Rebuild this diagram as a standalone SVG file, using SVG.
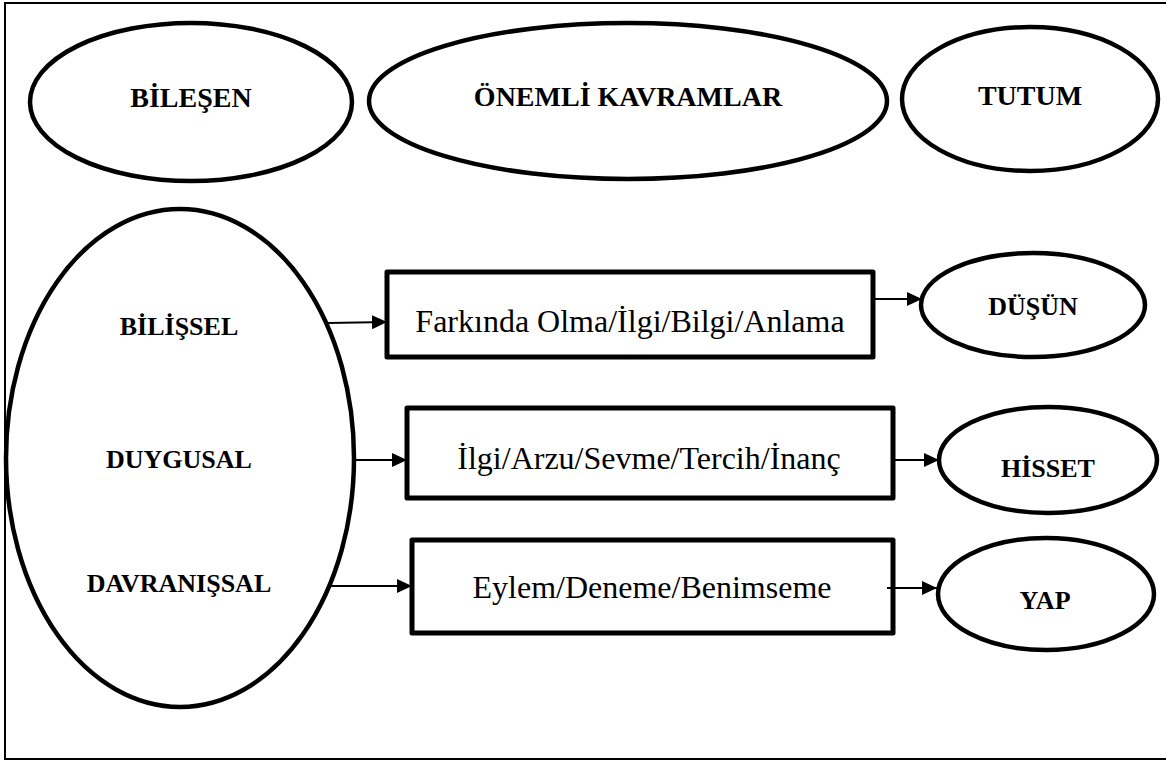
<svg xmlns="http://www.w3.org/2000/svg" width="1166" height="761" viewBox="0 0 1166 761">
  <style>
    .frame { fill: #ffffff; stroke: #000; stroke-width: 2; }
    .ell { fill: #ffffff; stroke: #000; stroke-width: 4.5; }
    .box { fill: #ffffff; stroke: #000; stroke-width: 5; stroke-linejoin: round; }
    .lbl { font-family: "Liberation Serif", "Times New Roman", serif; font-weight: bold; fill: #000; text-anchor: middle; }
    .big { font-size: 28px; }
    .mid { font-size: 26px; }
    .txt { font-family: "Liberation Serif", "Times New Roman", serif; font-size: 32px; fill: #000; text-anchor: middle; }
    .conn { stroke: #000; stroke-width: 2; fill: none; marker-end: url(#arr); }
  </style>
  <defs>
    <marker id="arr" markerUnits="userSpaceOnUse" markerWidth="16" markerHeight="14" refX="15" refY="7" orient="auto">
      <path d="M0,0 L15,7 L0,14 Z" fill="#000"/>
    </marker>
  </defs>
  <rect class="frame" x="5" y="3" width="1163" height="756"/>

  <g id="node-bilesen">
    <ellipse class="ell" cx="191" cy="102" rx="161" ry="79"/>
    <text class="lbl big" x="191" y="107">BİLEŞEN</text>
  </g>
  <g id="node-onemli">
    <ellipse class="ell" cx="628" cy="101" rx="259" ry="78"/>
    <text class="lbl big" x="628" y="106">ÖNEMLİ KAVRAMLAR</text>
  </g>
  <g id="node-tutum">
    <ellipse class="ell" cx="1030" cy="99" rx="128" ry="72"/>
    <text class="lbl big" x="1030" y="105">TUTUM</text>
  </g>

  <g id="node-components">
    <ellipse class="ell" cx="180" cy="458" rx="174" ry="249"/>
    <text class="lbl mid" x="179" y="335">BİLİŞSEL</text>
    <text class="lbl mid" x="179" y="468">DUYGUSAL</text>
    <text class="lbl mid" x="179" y="592">DAVRANIŞSAL</text>
  </g>

  <g id="node-box1">
    <rect class="box" x="387" y="272" width="486" height="85"/>
    <text class="txt" x="630" y="332">Farkında Olma/İlgi/Bilgi/Anlama</text>
  </g>
  <g id="node-box2">
    <rect class="box" x="407" y="408" width="486" height="90"/>
    <text class="txt" x="649" y="469">İlgi/Arzu/Sevme/Tercih/İnanç</text>
  </g>
  <g id="node-box3">
    <rect class="box" x="412" y="540" width="481" height="93"/>
    <text class="txt" x="652" y="598">Eylem/Deneme/Benimseme</text>
  </g>

  <g id="node-dusun">
    <ellipse class="ell" cx="1033" cy="305" rx="112" ry="52"/>
    <text class="lbl mid" x="1033" y="315">DÜŞÜN</text>
  </g>
  <g id="node-hisset">
    <ellipse class="ell" cx="1048" cy="460" rx="109" ry="53"/>
    <text class="lbl mid" x="1048" y="477">HİSSET</text>
  </g>
  <g id="node-yap">
    <ellipse class="ell" cx="1046" cy="594" rx="108" ry="56"/>
    <text class="lbl mid" x="1045" y="609">YAP</text>
  </g>

  <g id="connectors">
    <path class="conn" d="M328,323 L387,322"/>
    <path class="conn" d="M355,460 L407,460"/>
    <path class="conn" d="M328,586 L412,586"/>
    <path class="conn" d="M873,299 L922,299"/>
    <path class="conn" d="M893,460 L939,460"/>
    <path class="conn" d="M887,588 L937,588"/>
  </g>
</svg>
